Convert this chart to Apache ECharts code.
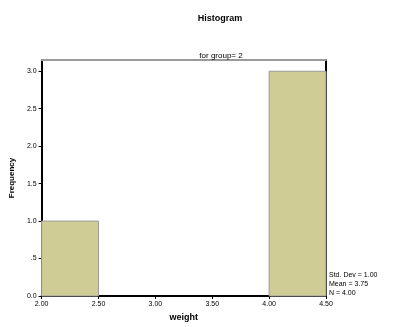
<!DOCTYPE html>
<html>
<head>
<meta charset="utf-8">
<script src="https://cdn.jsdelivr.net/npm/echarts@6/dist/echarts.min.js"></script>
<style>
  html, body { margin: 0; padding: 0; background: #fff; }
  #chart { width: 396px; height: 327px; }
</style>
</head>
<body>
<div id="chart"></div>
<script>
// Histogram of weight, split by group
const binStart = [2.0, 2.5, 3.0, 3.5, 4.0];
const binEnd = [2.5, 3.0, 3.5, 4.0, 4.5];
const frequency = [1, 0, 0, 0, 3];
const xTickValues = [2.0, 2.5, 3.0, 3.5, 4.0, 4.5];
const xTickLabels = ['2.00', '2.50', '3.00', '3.50', '4.00', '4.50'];
const yTickValues = [0, 0.5, 1, 1.5, 2, 2.5, 3];
const yTickLabels = ['0.0', '.5', '1.0', '1.5', '2.0', '2.5', '3.0'];
const statLines = ['Std. Dev = 1.00', 'Mean = 3.75', 'N = 4.00'];

const FONT = '"Liberation Sans", Arial, sans-serif';
const chart = echarts.init(document.getElementById('chart'), null, { renderer: 'canvas' });

const bars = binStart.map((s, i) => [s, binEnd[i], frequency[i]]);

chart.setOption({
  animation: false,
  backgroundColor: '#ffffff',
  title: [
    { text: 'Histogram', left: 215, top: 9, textAlign: 'center',
      textStyle: { fontFamily: FONT, fontSize: 9, fontWeight: 'bold', color: '#000' } },
    { text: 'for group= 2', left: 216, top: 47, textAlign: 'center',
      textStyle: { fontFamily: FONT, fontSize: 8, fontWeight: 'normal', color: '#000' } }
  ],
  graphic: statLines.map((t, i) => ({
    type: 'text', left: 329, top: 272 + i * 9,
    style: { text: t, font: '7px ' + FONT, fill: '#000' }
  })),
  grid: { left: 39, right: 70, top: 60, bottom: 31 },
  xAxis: [
    {
      type: 'value', min: 2.0, max: 4.5, interval: 0.5,
      name: 'weight', nameLocation: 'middle', nameGap: 17,
      nameTextStyle: { fontFamily: FONT, fontSize: 9, fontWeight: 'bold', color: '#000' },
      axisLine: { lineStyle: { color: '#000', width: 2 } },
      axisTick: { show: true, length: 3, lineStyle: { color: '#000' }, customValues: xTickValues },
      axisLabel: {
        fontFamily: FONT, fontSize: 7, color: '#000', margin: 5,
        customValues: xTickValues,
        formatter: v => xTickLabels[xTickValues.findIndex(t => Math.abs(t - v) < 1e-9)]
      },
      splitLine: { show: false }
    },
    {
      type: 'value', min: 2.0, max: 4.5, position: 'top',
      axisLine: { show: true, onZero: false, lineStyle: { color: '#9a9a9a', width: 2 } },
      axisTick: { show: false }, axisLabel: { show: false }, splitLine: { show: false }
    }
  ],
  yAxis: [
    {
      type: 'value', min: 0, max: 3.15,
      name: 'Frequency', nameLocation: 'middle', nameGap: 22, nameRotate: 90,
      nameTextStyle: { fontFamily: FONT, fontSize: 8, fontWeight: 'bold', color: '#000' },
      axisLine: { show: true, lineStyle: { color: '#000', width: 2 } },
      axisTick: { show: true, length: 3, lineStyle: { color: '#000' }, customValues: yTickValues },
      axisLabel: {
        fontFamily: FONT, fontSize: 7, color: '#000', margin: 5,
        customValues: yTickValues,
        formatter: v => yTickLabels[yTickValues.findIndex(t => Math.abs(t - v) < 1e-9)]
      },
      splitLine: { show: false }
    },
    {
      type: 'value', min: 0, max: 3.15, position: 'right',
      axisLine: { show: true, onZero: false, lineStyle: { color: '#000', width: 2 } },
      axisTick: { show: false }, axisLabel: { show: false }, splitLine: { show: false }
    }
  ],
  series: [{
    type: 'custom',
    xAxisIndex: 0, yAxisIndex: 0,
    data: bars,
    encode: { x: [0, 1], y: 2 },
    renderItem: (params, api) => {
      const h = api.value(2);
      if (!h) return null;
      const p0 = api.coord([api.value(0), h]);
      const p1 = api.coord([api.value(1), 0]);
      return {
        type: 'rect',
        shape: { x: p0[0], y: p0[1], width: p1[0] - p0[0], height: p1[1] - p0[1] },
        style: { fill: '#d0cc95', stroke: '#9a9a9a', lineWidth: 1 }
      };
    }
  }]
});
</script>
</body>
</html>
